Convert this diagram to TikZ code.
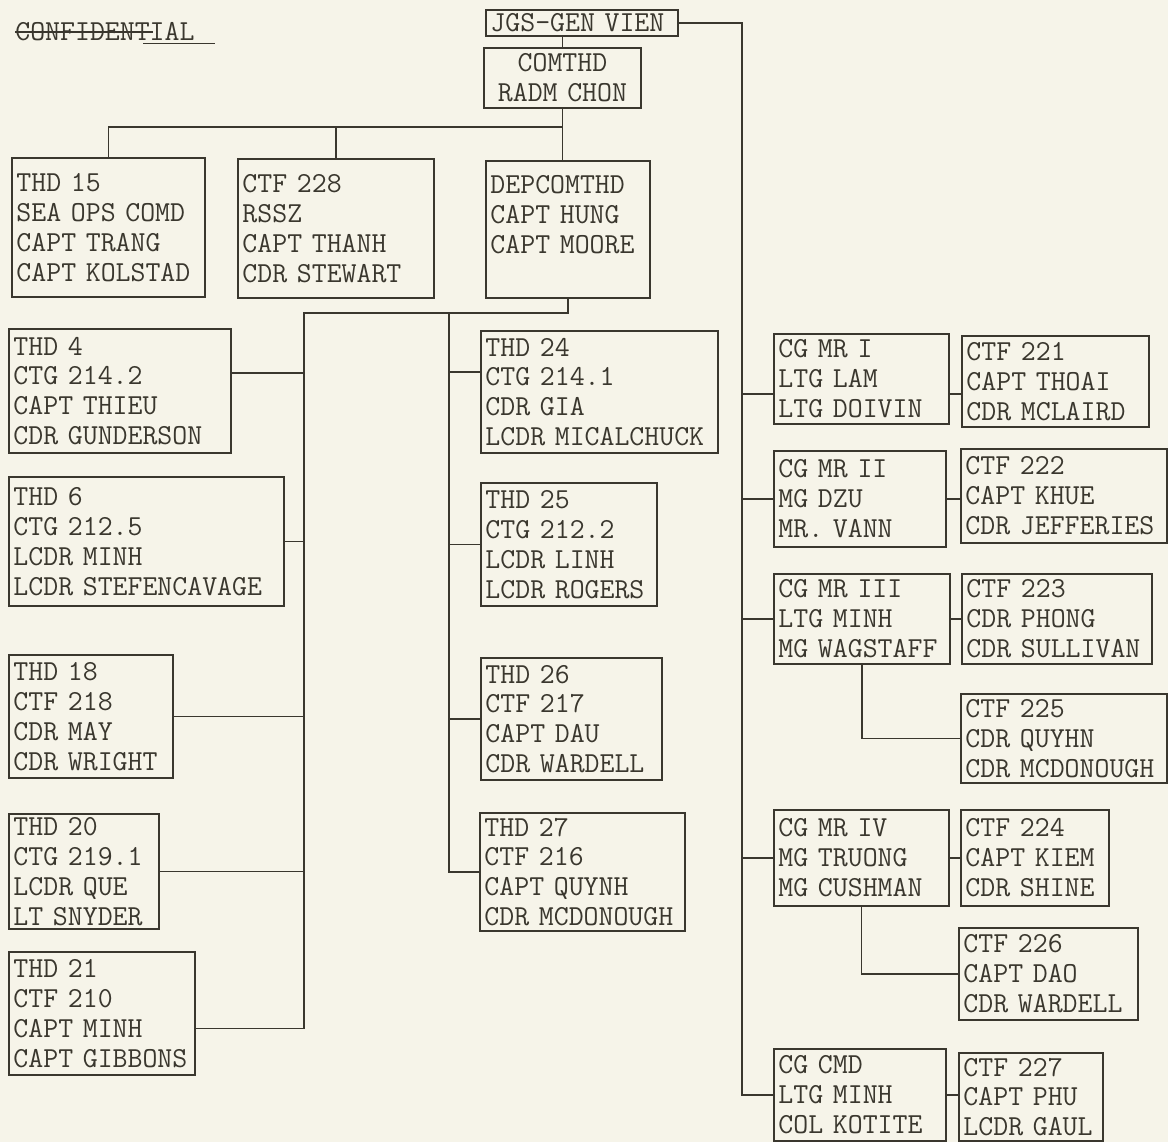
\documentclass[tikz,border=0pt]{standalone}
\usepackage{tikz}
\usetikzlibrary{positioning}
\usepackage{xcolor}
\definecolor{paper}{RGB}{246,244,233}
\definecolor{ink}{RGB}{58,55,46}

\begin{document}
\begin{tikzpicture}[
    x=0.02cm, y=-0.02cm,
    font=\ttfamily\fontsize{16.5}{17}\selectfont,
    box/.style 2 args={rectangle, draw=ink, line width=1.1pt, text=ink, anchor=north west,
      align=left, inner xsep=0.09cm, inner ysep=0pt,
      text width=#1*0.02cm-0.18cm, minimum height=#2*0.02cm},
    link/.style={draw=ink, line width=0.9pt}
  ]
  \useasboundingbox[fill=paper] (0,0) rectangle (1168,1142);

  \node[anchor=west, inner sep=0pt, text=ink] (conf) at (15,32) {CONFIDENTIAL};
  \draw[link] (conf.west) -- +(138,0);
  \draw[link] (conf.south west) ++(128,2) -- +(72,0);

  \node[box={192}{26}] (jgs) at (485,9) {JGS-GEN VIEN};
  \node[box={157}{60}, align=center] (comthd) at (483,47) {COMTHD\\RADM CHON};

  \node[box={193}{139}] (thd15) at (11,157) {THD 15\\SEA OPS COMD\\CAPT TRANG\\CAPT KOLSTAD};
  \node[box={196}{139}] (ctf228) at (237,158) {CTF 228\\RSSZ\\CAPT THANH\\CDR STEWART};
  \node[box={164}{137}] (depcom) at (485,160) {DEPCOMTHD\\CAPT HUNG\\CAPT MOORE\\\mbox{}};

  \node[box={222}{124}] (thd4) at (8,328) {THD 4\\CTG 214.2\\CAPT THIEU\\CDR GUNDERSON};
  \node[box={275}{129}] (thd6) at (8,476) {THD 6\\CTG 212.5\\LCDR MINH\\LCDR STEFENCAVAGE};
  \node[box={164}{123}] (thd18) at (8,654) {THD 18\\CTF 218\\CDR MAY\\CDR WRIGHT};
  \node[box={150}{115}] (thd20) at (8,813) {THD 20\\CTG 219.1\\LCDR QUE\\LT SNYDER};
  \node[box={186}{123}] (thd21) at (8,951) {THD 21\\CTF 210\\CAPT MINH\\CAPT GIBBONS};

  \node[box={237}{122}] (thd24) at (480,330) {THD 24\\CTG 214.1\\CDR GIA\\LCDR MICALCHUCK};
  \node[box={176}{123}] (thd25) at (480,482) {THD 25\\CTG 212.2\\LCDR LINH\\LCDR ROGERS};
  \node[box={181}{122}] (thd26) at (480,657) {THD 26\\CTF 217\\CAPT DAU\\CDR WARDELL};
  \node[box={205}{118}] (thd27) at (479,812) {THD 27\\CTF 216\\CAPT QUYNH\\CDR MCDONOUGH};

  \node[box={175}{90}] (mr1) at (773,333) {CG MR I\\LTG LAM\\LTG DOIVIN};
  \node[box={187}{91}] (ctf221) at (961,335) {CTF 221\\CAPT THOAI\\CDR MCLAIRD};
  \node[box={172}{96}] (mr2) at (773,450) {CG MR II\\MG DZU\\MR. VANN};
  \node[box={206}{94}] (ctf222) at (960,448) {CTF 222\\CAPT KHUE\\CDR JEFFERIES};
  \node[box={176}{90}] (mr3) at (773,573) {CG MR III\\LTG MINH\\MG WAGSTAFF};
  \node[box={190}{90}] (ctf223) at (961,573) {CTF 223\\CDR PHONG\\CDR SULLIVAN};
  \node[box={206}{89}] (ctf225) at (960,693) {CTF 225\\CDR QUYHN\\CDR MCDONOUGH};
  \node[box={175}{96}] (mr4) at (773,809) {CG MR IV\\MG TRUONG\\MG CUSHMAN};
  \node[box={148}{96}] (ctf224) at (960,809) {CTF 224\\CAPT KIEM\\CDR SHINE};
  \node[box={179}{92}] (ctf226) at (958,927) {CTF 226\\CAPT DAO\\CDR WARDELL};
  \node[box={172}{92}] (cgcmd) at (773,1048) {CG CMD\\LTG MINH\\COL KOTITE};
  \node[box={144}{88}] (ctf227) at (958,1052) {CTF 227\\CAPT PHU\\LCDR GAUL};

  \coordinate (rbus) at (742,0);
  \coordinate (topbus) at (0,127);
  \coordinate (lowbus) at (0,313);
  \coordinate (lcol) at (304,0);
  \coordinate (mcol) at (449,0);
  \coordinate (c4) at ([yshift=0.36cm]thd4.east);
  \coordinate (c21) at ([yshift=-0.3cm]thd21.east);
  \coordinate (c24) at ([yshift=0.4cm]thd24.west);
  \coordinate (c1) at ([yshift=-0.3cm]mr1.west);
  \coordinate (c1r) at ([yshift=-0.3cm]mr1.east);

  \draw[link] (comthd.north) -- (comthd.north |- jgs.south);
  \draw[link] (comthd.south) -- (comthd.south |- depcom.north);
  \draw[link] (thd15.north) |- (comthd.south |- topbus);
  \draw[link] (ctf228.north) -- (ctf228.north |- topbus);

  \draw[link] (depcom.south) |- (lcol |- lowbus) -- (lcol |- c21) -- (c21);
  \draw[link] (mcol |- lowbus) -- (mcol |- thd27.west) -- (thd27.west);
  \draw[link] (c4) -- (c4 -| lcol);
  \foreach \n in {thd6, thd18, thd20}
    \draw[link] (\n.east) -- (\n.east -| lcol);
  \draw[link] (c24) -- (c24 -| mcol);
  \foreach \n in {thd25, thd26}
    \draw[link] (\n.west) -- (\n.west -| mcol);

  \draw[link] (jgs.east) -| (rbus |- cgcmd.west) -- (cgcmd.west);
  \draw[link] (c1) -- (c1 -| rbus);
  \foreach \n in {mr2, mr3, mr4}
    \draw[link] (\n.west) -- (\n.west -| rbus);
  \draw[link] (c1r) -- (c1r -| ctf221.west);
  \foreach \src/\dst in {mr2/ctf222, mr3/ctf223, mr4/ctf224, cgcmd/ctf227}
    \draw[link] (\src.east) -- (\src.east -| \dst.west);
  \draw[link] (mr3.south) |- (ctf225.west);
  \draw[link] (mr4.south) |- (ctf226.west);
\end{tikzpicture}
\end{document}
